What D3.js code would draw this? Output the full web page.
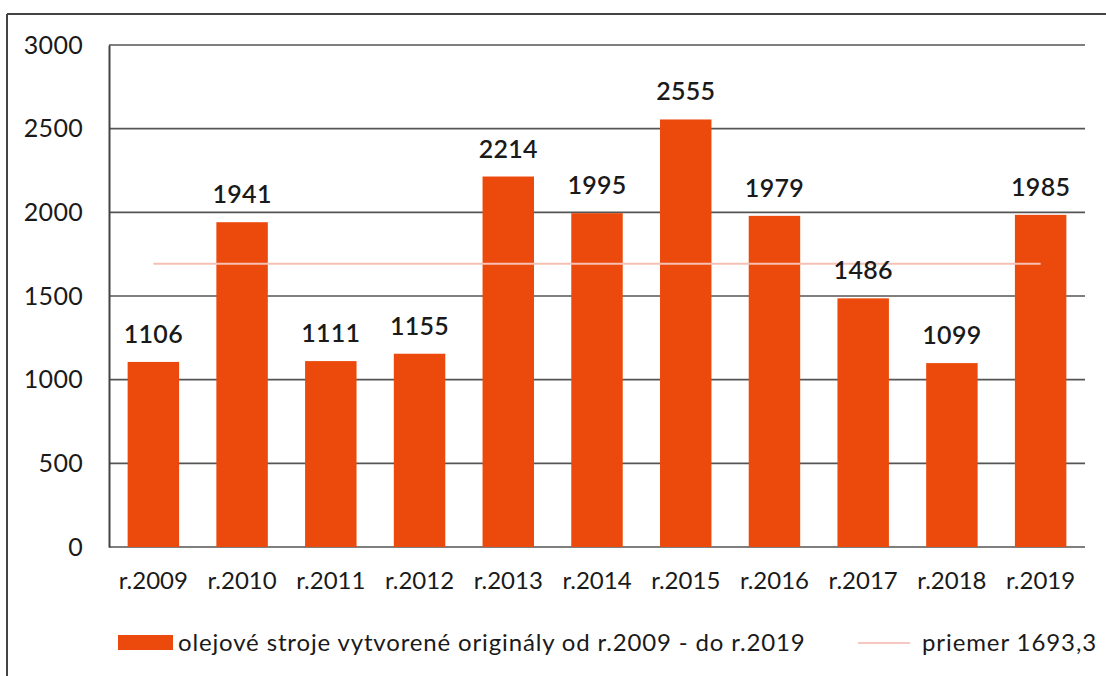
<!DOCTYPE html>
<html>
<head>
<meta charset="utf-8">
<script src="https://cdn.jsdelivr.net/npm/d3@7"></script>
<style>
  body { margin: 0; background: #fff; }
  svg { display: block; font-family: Lato, "Open Sans", sans-serif; }
</style>
</head>
<body>
<svg id="chart"></svg>
<script>
const years = ["r.2009", "r.2010", "r.2011", "r.2012", "r.2013", "r.2014", "r.2015", "r.2016", "r.2017", "r.2018", "r.2019"];
const counts = [1106, 1941, 1111, 1155, 2214, 1995, 2555, 1979, 1486, 1099, 1985];
const average = 1693.3;
const yTicks = [0, 500, 1000, 1500, 2000, 2500, 3000];
const barLabel = "olejové stroje vytvorené originály od r.2009 - do r.2019";
const avgLabel = "priemer 1693,3";

const width = 1106;
const height = 676;
const margin = { top: 45, right: 21, bottom: 129, left: 109 };
const barColor = "#ec4a0c";
const textColor = "#1a1a1a";

const svg = d3.select("#chart").attr("width", width).attr("height", height);

// outer frame (top + left only visible)
svg.append("line").attr("x1", 7).attr("x2", width).attr("y1", 14).attr("y2", 14)
  .attr("stroke", "#444").attr("stroke-width", 2);
svg.append("line").attr("x1", 7).attr("x2", 7).attr("y1", 14).attr("y2", height)
  .attr("stroke", "#444").attr("stroke-width", 2);

const x = d3.scaleBand()
  .domain(years)
  .range([margin.left, width - margin.right])
  .paddingInner(0.42)
  .paddingOuter(0.21);

const y = d3.scaleLinear()
  .domain([0, 3000])
  .range([height - margin.bottom, margin.top]);

// gridlines
svg.append("g")
  .selectAll("line")
  .data(yTicks)
  .join("line")
  .attr("x1", margin.left)
  .attr("x2", width - margin.right)
  .attr("y1", d => y(d))
  .attr("y2", d => y(d))
  .attr("stroke", "#555")
  .attr("stroke-width", 1.6);

// y axis
const yAxis = svg.append("g")
  .attr("transform", `translate(${margin.left},0)`)
  .call(d3.axisLeft(y).tickValues(yTicks).tickFormat(d3.format("d")).tickSize(0).tickPadding(26));
yAxis.select(".domain").attr("stroke", "#444").attr("stroke-width", 2);
yAxis.selectAll("text")
  .attr("font-size", 25)
  .attr("fill", textColor)
  .attr("font-family", "Lato")
  .attr("letter-spacing", 0.3);

// bars
svg.append("g")
  .selectAll("rect")
  .data(counts)
  .join("rect")
  .attr("x", (d, i) => x(years[i]))
  .attr("y", d => y(d))
  .attr("width", x.bandwidth())
  .attr("height", d => y(0) - y(d))
  .attr("fill", barColor);

// average line
svg.append("line")
  .attr("x1", x(years[0]) + x.bandwidth() / 2)
  .attr("x2", x(years[years.length - 1]) + x.bandwidth() / 2)
  .attr("y1", y(average))
  .attr("y2", y(average))
  .attr("stroke", "#f6c0b4")
  .attr("stroke-width", 2);

// value labels
svg.append("g")
  .selectAll("text")
  .data(counts)
  .join("text")
  .attr("x", (d, i) => x(years[i]) + x.bandwidth() / 2)
  .attr("y", d => y(d) - 19)
  .attr("text-anchor", "middle")
  .attr("font-size", 25)
  .attr("font-weight", 600)
  .attr("letter-spacing", 0.3)
  .attr("fill", textColor)
  .text(d => d);

// x axis labels
svg.append("g")
  .attr("transform", `translate(0,${y(0)})`)
  .call(d3.axisBottom(x).tickSize(0).tickPadding(25))
  .call(g => g.select(".domain").remove())
  .selectAll("text")
  .attr("font-size", 24)
  .attr("fill", textColor)
  .attr("font-family", "Lato");

// legend
const legend = svg.append("g");
legend.append("rect").attr("x", 118).attr("y", 635).attr("width", 55).attr("height", 15).attr("fill", barColor);
legend.append("text").attr("x", 178).attr("y", 651).attr("font-size", 24)
  .attr("letter-spacing", 0.85).attr("fill", textColor).text(barLabel);
legend.append("line").attr("x1", 858).attr("x2", 910).attr("y1", 643).attr("y2", 643)
  .attr("stroke", "#f6b4ac").attr("stroke-width", 1.5);
legend.append("text").attr("x", 922).attr("y", 651).attr("font-size", 24)
  .attr("letter-spacing", 0.9).attr("fill", textColor).text(avgLabel);
</script>
</body>
</html>
